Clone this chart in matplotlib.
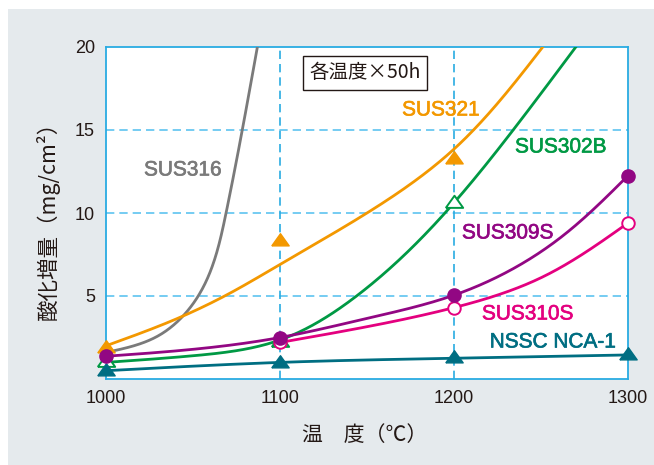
import matplotlib.pyplot as plt
import matplotlib.patheffects as pe
import numpy as np
from matplotlib.patches import Rectangle
from matplotlib.path import Path

# measured points (markers)
temps = [1000, 1100, 1200, 1300]
sus321_pts = [1.9, 8.4, 13.3]
sus302b_pts = [1.1, 2.3, 10.65]
sus309s_pts = [1.37, 2.5, 5.05, 12.25]
sus310s_t = [1100, 1200, 1300]
sus310s_pts = [2.2, 4.3, 9.4]
nca1_pts = [0.55, 1.05, 1.3, 1.5]

# trend curves
sus316_t = [1000, 1030, 1053, 1069, 1087]
sus316_v = [1.6, 2.6, 5.0, 10.0, 20.0]
sus321_t = [1000, 1040, 1070, 1100, 1150, 1200, 1225, 1251]
sus321_v = [2.0, 3.6, 5.1, 6.9, 10.0, 13.85, 16.6, 20.0]
sus302b_t = [1000, 1050, 1100, 1144, 1186, 1234, 1270]
sus302b_v = [1.0, 1.4, 2.35, 5.0, 9.0, 15.0, 20.0]
sus309s_t = [1000, 1100, 1150, 1200, 1261, 1300]
sus309s_v = [1.37, 2.5, 3.65, 5.05, 8.5, 12.25]
sus310s_ct = [1100, 1150, 1200, 1250, 1300]
sus310s_cv = [2.2, 3.15, 4.3, 6.1, 9.4]
nca1_t = [1000, 1100, 1200, 1300]
nca1_v = [0.5, 1.0, 1.25, 1.45]

BG = '#e5eaed'
BLUE = '#29abe2'
INK = '#231815'
ORANGE = '#f39800'
GREEN = '#009944'
PURPLE = '#920783'
PINK = '#e4007f'
TEAL = '#006e82'
GRAY = '#7a7a7a'
JP = ['Noto Sans CJK JP', 'DejaVu Sans']
LAT = 'Liberation Sans'


def natural(t, y):
    n = len(t)
    h = np.diff(t)
    A = np.zeros((n, n))
    b = np.zeros(n)
    A[0, 0] = A[-1, -1] = 1
    for i in range(1, n - 1):
        A[i, i - 1] = h[i - 1]
        A[i, i] = 2 * (h[i - 1] + h[i])
        A[i, i + 1] = h[i]
        b[i] = 6 * ((y[i + 1] - y[i]) / h[i] - (y[i] - y[i - 1]) / h[i - 1])
    return np.linalg.solve(A, b)


def eval_spline(t, y, M, tt):
    out = np.empty_like(tt)
    for k, x in enumerate(tt):
        i = min(max(np.searchsorted(t, x) - 1, 0), len(t) - 2)
        h = t[i + 1] - t[i]
        a = (t[i + 1] - x) / h
        c = (x - t[i]) / h
        out[k] = (a * y[i] + c * y[i + 1]
                  + ((a ** 3 - a) * M[i] + (c ** 3 - c) * M[i + 1]) * h * h / 6)
    return out


def smooth(xs, ys):
    # parametric spline on chord length (pixel-ish units)
    xs = np.asarray(xs, float)
    ys = np.asarray(ys, float)
    px = (xs - 1000) * 1.74
    py = ys * 16.6
    s = np.concatenate([[0], np.cumsum(np.hypot(np.diff(px), np.diff(py)))])
    ss = np.linspace(0, s[-1], 300)
    X = eval_spline(s, xs, natural(s, xs), ss)
    Y = eval_spline(s, ys, natural(s, ys), ss)
    return X, Y


tri = Path([(-1, -0.62), (1, -0.62), (0, 0.78), (-1, -0.62)])

fig = plt.figure(figsize=(6.54, 4.65), dpi=100)
fig.patch.set_facecolor('white')
fig.add_artist(Rectangle((8 / 654, 0), 1, (465 - 9) / 465, transform=fig.transFigure,
                         facecolor=BG, edgecolor='none', zorder=-10))

ax = fig.add_axes([106 / 654, 86 / 465, 522 / 654, 332 / 465])
ax.set_facecolor('white')
ax.set_xlim(1000, 1300)
ax.set_ylim(0, 20)
ax.set_xticks([1000, 1100, 1200, 1300])
ax.set_yticks([5, 10, 15, 20])
ax.tick_params(length=0, labelsize=13, labelcolor=INK, pad=8)
for lab in ax.get_xticklabels() + ax.get_yticklabels():
    lab.set_fontfamily(LAT)
for sp in ax.spines.values():
    sp.set_color(BLUE)
    sp.set_linewidth(1.3)
for v in [5, 10, 15]:
    ax.axhline(v, color='#5ec4f0', lw=1.2, ls=(0, (5, 3)), zorder=1)
for t in [1100, 1200]:
    ax.axvline(t, color=BLUE, lw=1.2, ls=(0, (5, 3)), zorder=1)

lw = 2.0
for (t, v, c) in [(sus316_t, sus316_v, GRAY), (sus321_t, sus321_v, ORANGE),
                  (sus302b_t, sus302b_v, GREEN), (nca1_t, nca1_v, TEAL),
                  (sus310s_ct, sus310s_cv, PINK), (sus309s_t, sus309s_v, PURPLE)]:
    X, Y = smooth(t, v)
    ax.plot(X, Y, color=c, lw=lw, zorder=3)

ax.plot(temps[:3], sus321_pts, ls='none', marker=tri, ms=12.5, color=ORANGE,
        zorder=5, clip_on=False)
ax.plot(temps[:3], sus302b_pts, ls='none', marker=tri, ms=12.5, mfc='white',
        mec=GREEN, mew=1.4, zorder=5, clip_on=False)
ax.plot(temps, nca1_pts, ls='none', marker=tri, ms=12.5, color=TEAL,
        zorder=5, clip_on=False)
ax.plot(sus310s_t, sus310s_pts, ls='none', marker='o', ms=9, mfc='white',
        mec=PINK, mew=1.4, zorder=6, clip_on=False)
ax.plot(temps, sus309s_pts, ls='none', marker='o', ms=9.5, color=PURPLE,
        zorder=7, clip_on=False)

labels = [('SUS316', 183, 170, GRAY), ('SUS321', 441, 110, ORANGE),
          ('SUS302B', 561, 147, GREEN), ('SUS309S', 508, 233, PURPLE),
          ('SUS310S', 528, 314, PINK), ('NSSC NCA-1', 553, 342, TEAL)]
for s, x, y, c in labels:
    fig.text(x / 654, 1 - y / 465, s, color=c, fontsize=15, family=LAT,
             ha='center', va='center',
             path_effects=[pe.withStroke(linewidth=0.45, foreground=c)])

fig.text(364.7 / 654, 1 - 73 / 465, '各温度×50h', fontsize=14, family=JP,
         color=INK, ha='center', va='center',
         bbox=dict(boxstyle='square,pad=0.32', facecolor='white', edgecolor=INK, lw=1))

fig.text(48 / 654, 1 - 215 / 465, '酸化増量（mg/cm²）', fontsize=15.5, family=JP,
         color=INK, rotation=90, ha='center', va='center')
fig.text(365 / 654, 1 - 435 / 465, '温　度（℃）', fontsize=15, family=JP,
         color=INK, ha='center', va='center')

fig.savefig('out.png', dpi=100, facecolor=fig.get_facecolor())
